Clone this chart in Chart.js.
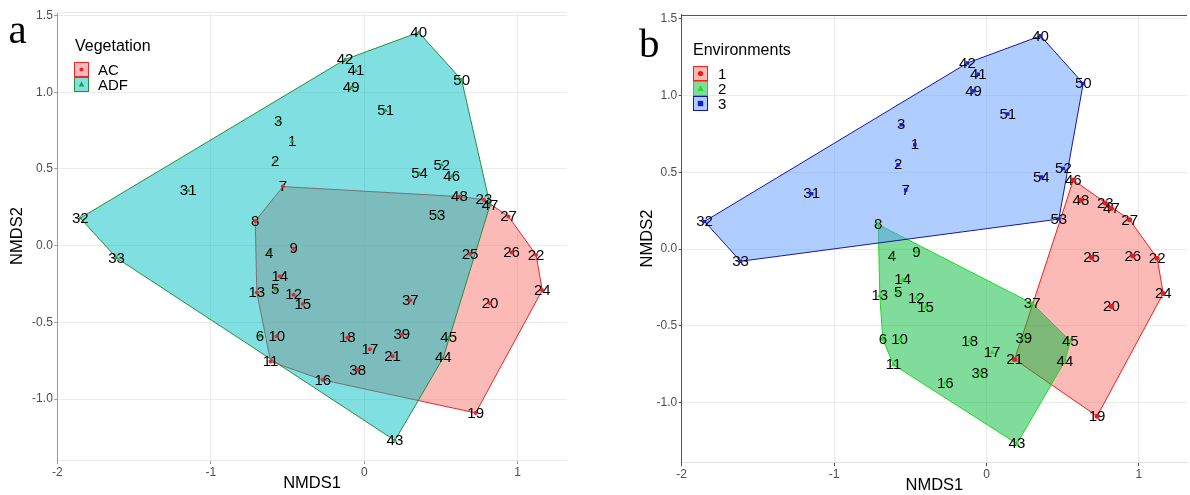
<!DOCTYPE html>
<html>
<head>
<meta charset="utf-8">
<title>NMDS ordination</title>
<script src="https://cdn.jsdelivr.net/npm/chart.js@4.4.1/dist/chart.umd.min.js"></script>
<style>
  html, body { margin: 0; padding: 0; background: #fff; }
  body { width: 1190px; height: 495px; position: relative; overflow: hidden;
         font-family: "Liberation Sans", Arial, sans-serif; }
  .panel { position: absolute; top: 0; width: 595px; height: 495px; }
  #panel-a { left: 0; }
  #panel-b { left: 595px; }
  .tag { position: absolute; font-family: "Liberation Serif", "Times New Roman", serif;
         font-size: 41px; line-height: 1; color: #000; }
  .legend { position: absolute; color: #000; }
  .legend .title { font-size: 16px; line-height: 18px; white-space: nowrap; }
  .legend .row { display: flex; align-items: center; height: 15px; }
  .legend svg { display: block; flex: none; }
  .legend .row span { font-size: 15px; line-height: 15px; }
</style>
</head>
<body>
<div class="panel" id="panel-a"><canvas id="chart-a"></canvas></div>
<div class="panel" id="panel-b"><canvas id="chart-b"></canvas></div>

<div class="tag" style="left:8.5px; top:8.7px;">a</div>
<div class="tag" style="left:639px; top:22.7px;">b</div>

<div class="legend" style="left:74px; top:37px;">
  <div class="title" style="margin-left:1px;">Vegetation</div>
  <div style="height:6.5px"></div>
  <div class="row">
    <svg width="15" height="15"><rect x="0.5" y="0.5" width="14" height="14" fill="rgba(248,118,109,0.5)" stroke="#e8262b"/><circle cx="7.5" cy="7.5" r="2" fill="#e8262b"/></svg>
    <span style="margin-left:9px">AC</span>
  </div>
  <div class="row">
    <svg width="15" height="15"><rect x="0.5" y="0.5" width="14" height="14" fill="rgba(0,191,196,0.5)" stroke="#2e8b3a"/><polygon points="7.5,4.5 10.3,9.5 4.7,9.5" fill="#2a9a3c"/></svg>
    <span style="margin-left:9px">ADF</span>
  </div>
</div>

<div class="legend" style="left:693px; top:41px;">
  <div class="title">Environments</div>
  <div style="height:6.7px"></div>
  <div class="row">
    <svg width="15" height="15"><rect x="0.5" y="0.5" width="14" height="14" fill="rgba(248,118,109,0.5)" stroke="#ff1a1a"/><circle cx="7.5" cy="7.5" r="2.6" fill="#f01818"/></svg>
    <span style="margin-left:10px">1</span>
  </div>
  <div class="row">
    <svg width="15" height="15"><rect x="0.5" y="0.5" width="14" height="14" fill="rgba(0,186,56,0.5)" stroke="#1ed81e"/><polygon points="7.5,4 10.6,10 4.4,10" fill="#22e022"/></svg>
    <span style="margin-left:10px">2</span>
  </div>
  <div class="row">
    <svg width="15" height="15"><rect x="0.5" y="0.5" width="14" height="14" fill="rgba(97,156,255,0.5)" stroke="#1515a8"/><rect x="4.8" y="4.8" width="5.4" height="5.4" fill="#1c1cc8"/></svg>
    <span style="margin-left:10px">3</span>
  </div>
</div>

<script>
// NMDS scores, one entry per sample
const sampleIds = [1, 2, 3, 4, 5, 6, 7, 8, 9, 10, 11, 12, 13, 14, 15, 16, 17, 18, 19, 20,
  21, 22, 23, 24, 25, 26, 27, 31, 32, 33, 37, 38, 39, 40, 41, 42, 43, 44, 45, 46,
  47, 48, 49, 50, 51, 52, 53, 54];
const nmds1 = [-0.47, -0.58, -0.56, -0.62, -0.58, -0.68, -0.53, -0.71, -0.46, -0.57,
  -0.61, -0.46, -0.70, -0.55, -0.40, -0.27, 0.037, -0.11, 0.726, 0.82,
  0.185, 1.12, 0.78, 1.16, 0.69, 0.96, 0.94, -1.147, -1.85, -1.614,
  0.30, -0.043, 0.245, 0.355, -0.054, -0.125, 0.20, 0.515, 0.55, 0.57,
  0.82, 0.62, -0.085, 0.635, 0.14, 0.505, 0.475, 0.36];
const nmds2 = [0.68, 0.55, 0.81, -0.05, -0.285, -0.59, 0.385, 0.16, -0.02, -0.59,
  -0.755, -0.32, -0.305, -0.20, -0.38, -0.875, -0.675, -0.60, -1.09, -0.375,
  -0.72, -0.06, 0.30, -0.29, -0.055, -0.045, 0.19, 0.36, 0.18, -0.08,
  -0.355, -0.81, -0.58, 1.39, 1.14, 1.213, -1.27, -0.73, -0.60, 0.45,
  0.265, 0.32, 1.03, 1.08, 0.88, 0.525, 0.195, 0.47];

// grouping factors
const vegetation = ['ADF', 'ADF', 'ADF', 'ADF', 'ADF', 'ADF', 'AC', 'AC', 'AC', 'AC',
  'AC', 'AC', 'AC', 'AC', 'AC', 'AC', 'AC', 'AC', 'AC', 'AC',
  'AC', 'AC', 'AC', 'AC', 'AC', 'AC', 'AC', 'ADF', 'ADF', 'ADF',
  'AC', 'AC', 'AC', 'ADF', 'ADF', 'ADF', 'ADF', 'ADF', 'ADF', 'ADF',
  'ADF', 'AC', 'ADF', 'ADF', 'ADF', 'ADF', 'ADF', 'ADF'];
const environment = [3, 3, 3, 2, 2, 2, 3, 2, 2, 2,
  2, 2, 2, 2, 2, 2, 2, 2, 1, 1,
  1, 1, 1, 1, 1, 1, 1, 3, 3, 3,
  2, 2, 2, 3, 3, 3, 2, 2, 2, 1,
  1, 1, 3, 3, 3, 3, 3, 3];

const xTicks = [-2, -1, 0, 1];
const yTicks = [-1.0, -0.5, 0.0, 0.5, 1.0, 1.5];

Chart.defaults.font.family = '"Liberation Sans", Arial, sans-serif';

// Andrew's monotone chain, returned closed (first point repeated)
function convexHull(pts) {
  const p = pts.slice().sort((a, b) => a.x - b.x || a.y - b.y);
  const cross = (o, a, b) => (a.x - o.x) * (b.y - o.y) - (a.y - o.y) * (b.x - o.x);
  const lower = [];
  for (const q of p) {
    while (lower.length >= 2 && cross(lower[lower.length - 2], lower[lower.length - 1], q) <= 0) lower.pop();
    lower.push(q);
  }
  const upper = [];
  for (const q of p.reverse()) {
    while (upper.length >= 2 && cross(upper[upper.length - 2], upper[upper.length - 1], q) <= 0) upper.pop();
    upper.push(q);
  }
  lower.pop();
  upper.pop();
  const hull = lower.concat(upper);
  hull.push(hull[0]);
  return hull;
}

// sample numbers go under the point markers but over the hulls
const pointLabels = {
  id: 'pointLabels',
  beforeDatasetsDraw(chart) { chart.$labelsDone = false; },
  beforeDatasetDraw(chart, args) {
    const ds = chart.data.datasets[args.index];
    if (!ds.labels || chart.$labelsDone) return;
    chart.$labelsDone = true;
    const ctx = chart.ctx;
    ctx.save();
    ctx.font = '15px "Liberation Sans", Arial, sans-serif';
    ctx.fillStyle = '#000';
    ctx.textAlign = 'center';
    ctx.textBaseline = 'middle';
    chart.data.datasets.forEach((d, i) => {
      if (!d.labels) return;
      chart.getDatasetMeta(i).data.forEach((pt, j) => ctx.fillText(d.labels[j], pt.x, pt.y + 0.5));
    });
    ctx.restore();
  }
};

// top edge of the panel
const panelFrame = {
  id: 'panelFrame',
  beforeDatasetsDraw(chart, args, opts) {
    const { ctx, chartArea: a } = chart;
    ctx.save();
    ctx.strokeStyle = opts.color;
    ctx.lineWidth = 1;
    ctx.beginPath();
    ctx.moveTo(a.left, Math.round(a.top) + 0.5);
    ctx.lineTo(a.right, Math.round(a.top) + 0.5);
    ctx.stroke();
    ctx.restore();
  }
};

function buildPanel(canvasId, panel) {
  const datasets = [];
  panel.groups.forEach((g, gi) => {
    const members = sampleIds
      .map((id, i) => ({ id, x: nmds1[i], y: nmds2[i], key: panel.membership[i] }))
      .filter(p => p.key === g.key);
    datasets.push({
      type: 'line',
      data: convexHull(members).map(p => ({ x: p.x, y: p.y })),
      order: 10 + panel.groups.length - gi,
      fill: 'shape',
      backgroundColor: g.fill,
      borderColor: g.stroke,
      borderWidth: 1,
      pointRadius: 0,
      pointHoverRadius: 0,
      tension: 0
    });
    datasets.push({
      type: 'scatter',
      data: members.map(p => ({ x: p.x, y: p.y })),
      labels: members.map(p => String(p.id)),
      order: 0,
      pointStyle: g.shape,
      pointRadius: g.radius,
      pointHoverRadius: g.radius,
      backgroundColor: g.point,
      borderColor: g.point,
      borderWidth: 0
    });
  });

  const tickFont = { size: 12 };
  const titleFont = { size: 16.5 };

  return new Chart(document.getElementById(canvasId), {
    type: 'scatter',
    data: { datasets },
    plugins: [pointLabels, panelFrame],
    options: {
      responsive: true,
      maintainAspectRatio: false,
      animation: false,
      events: [],
      layout: { padding: { top: panel.padTop, right: panel.padRight, left: 0, bottom: 0 } },
      plugins: {
        legend: { display: false },
        tooltip: { enabled: false },
        panelFrame: { color: panel.topColor }
      },
      scales: {
        x: {
          type: 'linear',
          min: panel.xRange[0],
          max: panel.xRange[1],
          afterBuildTicks: s => { s.ticks = xTicks.map(v => ({ value: v })); },
          afterFit: s => { s.height = panel.xHeight; },
          grid: { color: '#ebebeb', lineWidth: 1, tickLength: 4, tickColor: panel.tickColor },
          border: { color: panel.bottomColor, width: 1 },
          ticks: { color: '#4d4d4d', font: tickFont, padding: 1, maxRotation: 0, callback: v => String(v) },
          title: { display: true, text: 'NMDS1', color: '#000', font: titleFont,
                   padding: { top: 0, bottom: panel.xTitlePad } }
        },
        y: {
          type: 'linear',
          min: panel.yRange[0],
          max: panel.yRange[1],
          afterBuildTicks: s => { s.ticks = yTicks.map(v => ({ value: v })); },
          afterFit: s => { s.width = panel.yWidth; },
          grid: { color: '#ebebeb', lineWidth: 1, tickLength: 3, tickColor: panel.tickColor },
          border: { color: panel.axisColor, width: 1 },
          ticks: { color: '#4d4d4d', font: tickFont, padding: 1.5, callback: v => v.toFixed(1) },
          title: { display: true, text: 'NMDS2', color: '#000', font: titleFont,
                   padding: { top: panel.yTitlePad, bottom: 0 } }
        }
      }
    }
  });
}

buildPanel('chart-a', {
  membership: vegetation,
  groups: [
    { key: 'AC', fill: 'rgba(248,118,109,0.5)', stroke: '#e8262b', point: '#e8262b', shape: 'circle', radius: 2 },
    { key: 'ADF', fill: 'rgba(0,191,196,0.5)', stroke: '#2e8b3a', point: '#2a9a3c', shape: 'triangle', radius: 2.5 }
  ],
  xRange: [-2, 1.32],
  yRange: [-1.397, 1.523],
  yWidth: 57.3,
  xHeight: 35,
  padTop: 12,
  padRight: 28.2,
  axisColor: '#9a9a9a',
  bottomColor: '#ebebeb',
  tickColor: '#9a9a9a',
  topColor: '#ebebeb',
  yTitlePad: 8,
  xTitlePad: 2
});

buildPanel('chart-b', {
  membership: environment,
  groups: [
    { key: 1, fill: 'rgba(248,118,109,0.5)', stroke: '#ff1a1a', point: '#f01818', shape: 'circle', radius: 2.5 },
    { key: 2, fill: 'rgba(0,186,56,0.5)', stroke: '#1ed81e', point: '#22e022', shape: 'triangle', radius: 3 },
    { key: 3, fill: 'rgba(97,156,255,0.5)', stroke: '#1515a8', point: '#1c1cc8', shape: 'rect', radius: 2.5 }
  ],
  xRange: [-2, 1.316],
  yRange: [-1.391, 1.528],
  yWidth: 86.7,
  xHeight: 32.7,
  padTop: 14.7,
  padRight: 0,
  axisColor: '#555',
  bottomColor: '#e3e3e3',
  tickColor: '#555',
  topColor: '#555',
  yTitlePad: 43,
  xTitlePad: 0
});
</script>
</body>
</html>
